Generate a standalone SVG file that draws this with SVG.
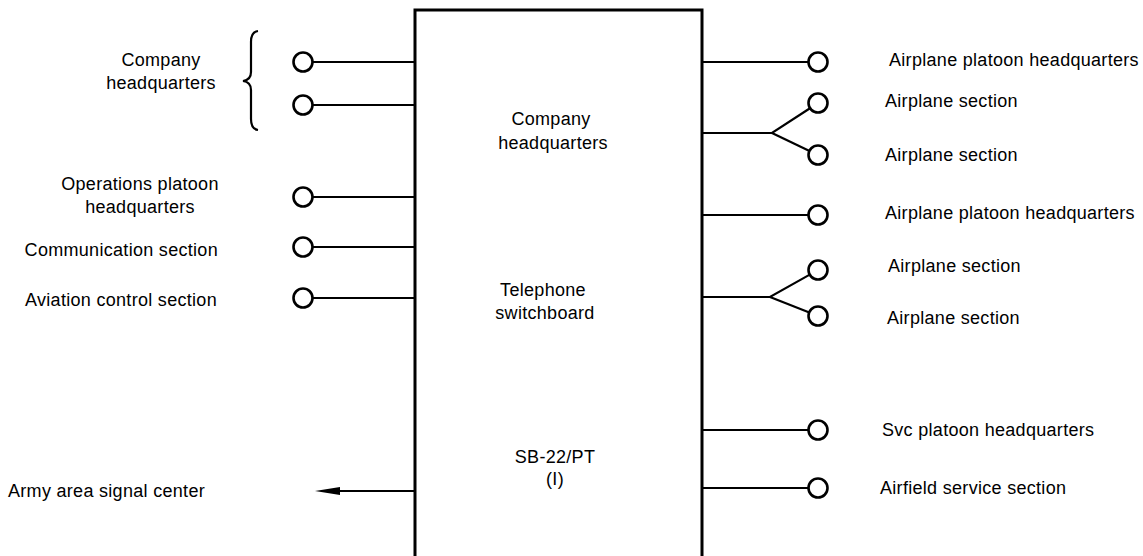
<svg xmlns="http://www.w3.org/2000/svg" width="1143" height="556" viewBox="0 0 1143 556">
<style>
text{font-family:"Liberation Sans",Arial,sans-serif;font-size:18px;fill:#000;letter-spacing:0.3px}
.c{text-anchor:middle}
.r{text-anchor:end}
.ln{stroke:#000;stroke-width:2.2;fill:none}
.box{stroke:#000;stroke-width:3;fill:none}
.term{stroke:#000;stroke-width:2.6;fill:#fff}
</style>
<rect width="1143" height="556" fill="#fff"/>
<g id="switchboard">
<path class="box" d="M415 560 L415 10 L702 10 L702 560"/>
<text class="c" x="551" y="125">Company</text>
<text class="c" x="553" y="149">headquarters</text>
<text class="c" x="543" y="296">Telephone</text>
<text class="c" x="545" y="319">switchboard</text>
<text class="c" x="555" y="463">SB-22/PT</text>
<text class="c" x="555" y="485">(I)</text>
</g>
<g id="connectors">
<line class="ln" x1="313" y1="62" x2="415" y2="62"/>
<line class="ln" x1="313" y1="105" x2="415" y2="105"/>
<line class="ln" x1="313" y1="197" x2="415" y2="197"/>
<line class="ln" x1="313" y1="247" x2="415" y2="247"/>
<line class="ln" x1="313" y1="298" x2="415" y2="298"/>
<line class="ln" x1="336" y1="491" x2="415" y2="491"/>
<polygon points="315,491 340,487 340,495" fill="#000"/>
<line class="ln" x1="702" y1="62" x2="808" y2="62"/>
<polyline class="ln" points="702,133 772,133 809.6,108.5"/>
<line class="ln" x1="772" y1="133" x2="809" y2="150.7"/>
<line class="ln" x1="702" y1="215" x2="808" y2="215"/>
<polyline class="ln" points="702,297 770,297 809.3,274.9"/>
<line class="ln" x1="770" y1="297" x2="808.7" y2="312.3"/>
<line class="ln" x1="702" y1="430" x2="808" y2="430"/>
<line class="ln" x1="702" y1="488" x2="808" y2="488"/>
</g>
<g id="company-hq-left">
<path class="ln" d="M258 31 Q251 32 251 42 L251 72 Q251 80 243 81 Q251 82 251 90 L251 119 Q251 129 258 130"/>
<circle class="term" cx="303" cy="62" r="9.5"/>
<circle class="term" cx="303" cy="105" r="9.5"/>
<text class="c" x="161" y="66">Company</text>
<text class="c" x="161" y="89">headquarters</text>
</g>
<g id="ops-platoon">
<circle class="term" cx="303" cy="197" r="9.5"/>
<text class="c" x="140" y="190">Operations platoon</text>
<text class="c" x="140" y="213">headquarters</text>
</g>
<g id="comm-section">
<circle class="term" cx="303" cy="247" r="9.5"/>
<text class="r" x="218" y="256">Communication section</text>
</g>
<g id="aviation-control">
<circle class="term" cx="303" cy="298" r="9.5"/>
<text class="r" x="217" y="306">Aviation control section</text>
</g>
<g id="army-signal">
<text x="8" y="497">Army area signal center</text>
</g>
<g id="airplane-platoon-hq-1">
<circle class="term" cx="818" cy="62" r="9.5"/>
<text x="889" y="66">Airplane platoon headquarters</text>
</g>
<g id="airplane-section-1">
<circle class="term" cx="818" cy="103" r="9.5"/>
<text x="885" y="107">Airplane section</text>
</g>
<g id="airplane-section-2">
<circle class="term" cx="818" cy="155" r="9.5"/>
<text x="885" y="161">Airplane section</text>
</g>
<g id="airplane-platoon-hq-2">
<circle class="term" cx="818" cy="215" r="9.5"/>
<text x="885" y="219">Airplane platoon headquarters</text>
</g>
<g id="airplane-section-3">
<circle class="term" cx="818" cy="270" r="9.5"/>
<text x="888" y="272">Airplane section</text>
</g>
<g id="airplane-section-4">
<circle class="term" cx="818" cy="316" r="9.5"/>
<text x="887" y="324">Airplane section</text>
</g>
<g id="svc-platoon-hq">
<circle class="term" cx="818" cy="430" r="9.5"/>
<text x="882" y="436">Svc platoon headquarters</text>
</g>
<g id="airfield-service">
<circle class="term" cx="818" cy="488" r="9.5"/>
<text x="880" y="494">Airfield service section</text>
</g>
</svg>
